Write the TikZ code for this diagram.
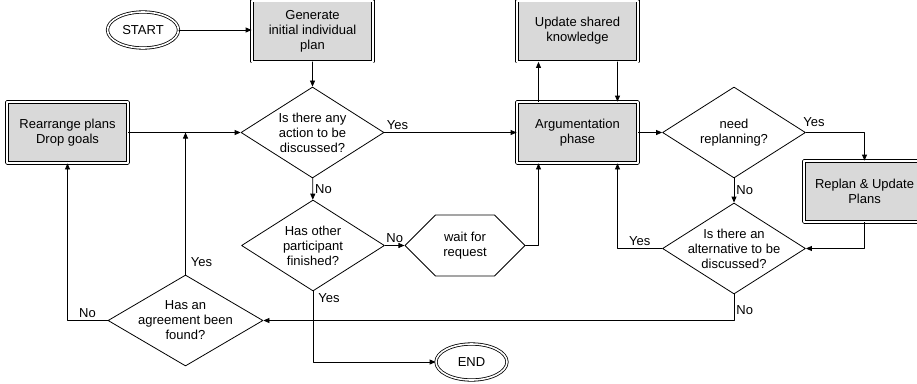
\documentclass[tikz,border=0pt]{standalone}
\usepackage{fontspec}
\setmainfont{Liberation Sans}
\usetikzlibrary{shapes.geometric,shapes.symbols,arrows.meta}

\begin{document}
\begin{tikzpicture}[x=1pt,y=-1pt,line cap=round,line join=round,line width=0.8pt,
  >={Triangle[length=6pt,width=5pt]},
  every node/.style={font=\fontsize{13}{15}\selectfont,align=center},
  terminal/.style={ellipse,draw,double,double distance=1.6pt,fill=white,
    minimum width=71pt,minimum height=36pt,inner sep=0pt},
  process/.style={rectangle,draw,double,double distance=2pt,fill=gray!30,
    minimum width=121pt,minimum height=61pt,inner sep=0pt},
  decision/.style={diamond,draw,minimum width=143pt,minimum height=91pt,inner sep=0pt},
  waitbox/.style={signal,signal to=west and east,signal pointer angle=90,draw,
    minimum width=120pt,minimum height=61pt,inner sep=0pt},
  flow/.style={->},
  tag/.style={inner sep=2pt}]
\useasboundingbox (0,0) rectangle (917,383);
\clip (0,0) rectangle (917,383);

% boxes
\node[terminal] (start) at (143,30) {START};
\node[process] (gen) at (312.5,31) {Generate\\initial individual\\plan};
\node[process] (upd) at (577.5,31) {Update shared\\knowledge};
\node[process] (rear) at (67.5,132.5) {Rearrange plans\\Drop goals};
\node[process] (arg) at (577.5,132.5) {Argumentation\\phase};
\node[process] (repl) at (864.5,191.5) {Replan \& Update\\Plans};
\node[waitbox] (wait) at (465,245.5) {wait for\\request};
\node[terminal] (end) at (471.5,362) {END};

% decisions
\node[decision,label={center:{Is there any\\action to be\\discussed?}}] (act) at (312.5,132.5) {};
\node[decision,label={center:{need\\replanning?}}] (need) at (734,132.5) {};
\node[decision,label={center:{Has other\\participant\\finished?}}] (oth) at (313,245.5) {};
\node[decision,label={center:{Is there an\\alternative to be\\discussed?}}] (alt) at (734,248.5) {};
\node[decision,minimum width=155pt,label={center:{Has an\\agreement been\\found?}}] (agr) at (185.5,320.5) {};

% flow
\draw[flow] (start.east) -- (start.east -| gen.west);
\draw[flow] (gen) -- (act);
\draw[flow] (rear) -- (act);
\draw[flow] (act) -- node[tag,pos=0,anchor=south west]{Yes} (arg);
\draw[flow] (arg) -- (need);
\draw[flow] ([xshift=-39pt]arg.north) -- ([xshift=-39pt]upd.south);
\draw[flow] ([xshift=40pt]upd.south) -- ([xshift=40pt]arg.north);
\draw[flow] (need.east) -| node[tag,pos=0,anchor=south west,xshift=-5pt,yshift=3pt]{Yes} (repl.north);
\draw[flow] (need) -- node[tag,right]{No} (alt);
\draw[flow] (repl.south) |- (alt.east);
\draw[flow] (alt.west) -| node[tag,pos=0.25,above]{Yes} ([xshift=40pt]arg.south);
\draw[flow] (alt.south) |- node[tag,pos=0.3,right]{No} (agr.east);
\draw[flow] (act) -- node[tag,right]{No} (oth);
\draw[flow] (oth) -- node[tag,above]{No} (wait);
\draw[flow] (wait.east) -| ([xshift=-39pt]arg.south);
\draw[flow] (oth.south) |- node[tag,pos=0,anchor=north west,xshift=3pt]{Yes} (end.west);
\draw[flow] (agr.north) -- node[tag,pos=0,anchor=south west,xshift=3pt,yshift=6pt]{Yes} (agr.north |- act.west);
\draw[flow] (agr.west) -| node[tag,pos=0.25,above]{No} (rear.south);
\end{tikzpicture}
\end{document}
